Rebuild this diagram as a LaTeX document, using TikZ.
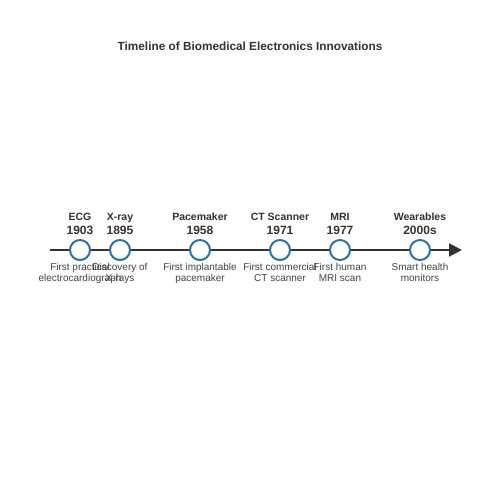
\documentclass[tikz,border=0pt]{standalone}
\usepackage{fontspec}
\setmainfont{Liberation Sans}
\usetikzlibrary{arrows.meta}
\definecolor{dark}{HTML}{333333}
\definecolor{desc}{HTML}{444444}
\definecolor{ring}{HTML}{2B6FAE}
\begin{document}
\begin{tikzpicture}[x=1pt,y=-1pt,
  ev/.style={circle,draw=ring,line width=2pt,fill=white,minimum size=20pt,inner sep=0pt},
  nm/.style={font=\bfseries\fontsize{10.5}{12}\selectfont,text=dark,inner sep=0pt,anchor=base},
  yr/.style={font=\bfseries\fontsize{12}{14}\selectfont,text=dark,inner sep=0pt,anchor=base},
  ds/.style={font=\fontsize{10}{12}\selectfont,text=desc,inner sep=0pt,anchor=base}]
\useasboundingbox (0,0) rectangle (500,500);
\fill[white] (0,0) rectangle (500,500);
\node[font=\bfseries\fontsize{11.8}{14}\selectfont,text=dark] (title) at (250,46) {Timeline of Biomedical Electronics Innovations};
\coordinate (ls) at (50,250);
\coordinate (le) at (462,250);
\draw[line width=2pt,dark,-{Triangle[length=13pt,width=13pt]}] (ls) -- (le);
\foreach \x/\n/\y/\a/\b/\id in {80/ECG/1903/First practical/electrocardiograph/e1,
 120/X-ray/1895/Discovery of/X-rays/e2,
 200/Pacemaker/1958/First implantable/pacemaker/e3,
 280/CT Scanner/1971/First commercial/CT scanner/e4,
 340/MRI/1977/First human/MRI scan/e5,
 420/Wearables/2000s/Smart health/monitors/e6}{
  \node[ev] (\id) at (\x,250) {};
  \node[nm] (\id n) at (\x,220) {\n};
  \node[yr] (\id y) at (\x,234.5) {\y};
  \node[ds] (\id a) at (\x,270) {\a};
  \node[ds] (\id b) at (\x,281.5) {\b};
}
\end{tikzpicture}
\end{document}
